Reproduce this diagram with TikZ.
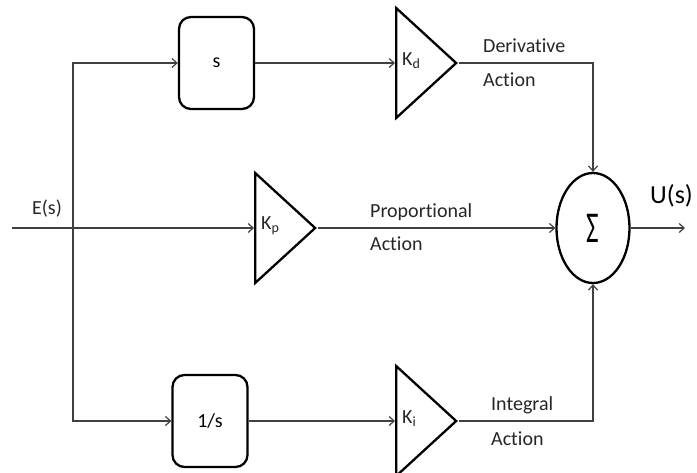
\documentclass[tikz,border=0pt]{standalone}
\usepackage{fontspec}
\usepackage{graphicx}
\setmainfont[Ligatures=CommonOff]{Carlito}
\usetikzlibrary{arrows.meta,shapes.geometric}
\begin{document}
\begin{tikzpicture}[x=1pt,y=-1pt,
  conn/.style={draw=black!75,line width=1.3pt,-{Straight Barb[length=5pt,width=9pt,line width=1.2pt]}},
  blk/.style={draw=black,line width=2.3pt,rounded corners=12pt,minimum width=75pt,minimum height=92pt,inner sep=0pt,font=\fontsize{20}{24}\selectfont},
  gain/.style={draw=black,line width=2.3pt,isosceles triangle,isosceles triangle stretches,minimum width=110pt,minimum height=60pt,inner sep=0pt,anchor=west},
  glbl/.style={font=\fontsize{20}{24}\selectfont,anchor=west,inner sep=0pt,text=black!85},
  lbl/.style={font=\fontsize{20}{24}\selectfont,anchor=west,inner sep=0pt,text=black!85}
]
\useasboundingbox (0,0) rectangle (697,472);

\coordinate (in) at (12,228);
\coordinate (sp) at (73,228);
\coordinate (out) at (685,228);

\node[blk] (sbox) at (216.5,63) {s};
\node[blk] (ibox) at (210,421) {1/s};

\node[gain] (kd) at (395,63) {};
\node[gain] (kp) at (254,228) {};
\node[gain] (ki) at (395,421) {};

\node[glbl] at ([xshift=7pt,yshift=2pt]kd.west) {K\textsubscript{d}};
\node[glbl] at ([xshift=7pt,yshift=2pt]kp.west) {K\textsubscript{p}};
\node[glbl] at ([xshift=7pt,yshift=2pt]ki.west) {K\textsubscript{i}};

\node[draw=black,line width=2.3pt,ellipse,minimum width=73pt,minimum height=110pt,inner sep=0pt] (sum) at (593,228)
  {\scalebox{0.62}[1]{\fontsize{44}{44}\selectfont Σ}};

\draw[conn] (in) -- (kp.west);
\draw[conn] (sp) |- (sbox.west);
\draw[conn] (sp) |- (ibox.west);
\draw[conn] (sbox.east) -- (kd.west);
\draw[conn] (ibox.east) -- (ki.west);
\draw[conn] (kd.apex) -| (sum.north);
\draw[conn] (kp.apex) -- (sum.west);
\draw[conn] (ki.apex) -| (sum.south);
\draw[conn] (sum.east) -- (out);

\node[lbl] (dl1) at (483,46) {Derivative};
\node[lbl] (dl2) at (483,80) {Action};
\node[lbl] (pl1) at (370,212) {Proportional};
\node[lbl] (pl2) at (370,244) {Action};
\node[lbl] (il1) at (491,405) {Integral};
\node[lbl] (il2) at (491,439) {Action};
\node[font=\fontsize{20}{24}\selectfont,inner sep=0pt,text=black!85] (es) at (47,209) {E(s)};
\node[font=\fontsize{26}{30}\selectfont,inner sep=0pt,anchor=west,text=black] (us) at (650,196) {U(s)};
\end{tikzpicture}
\end{document}
